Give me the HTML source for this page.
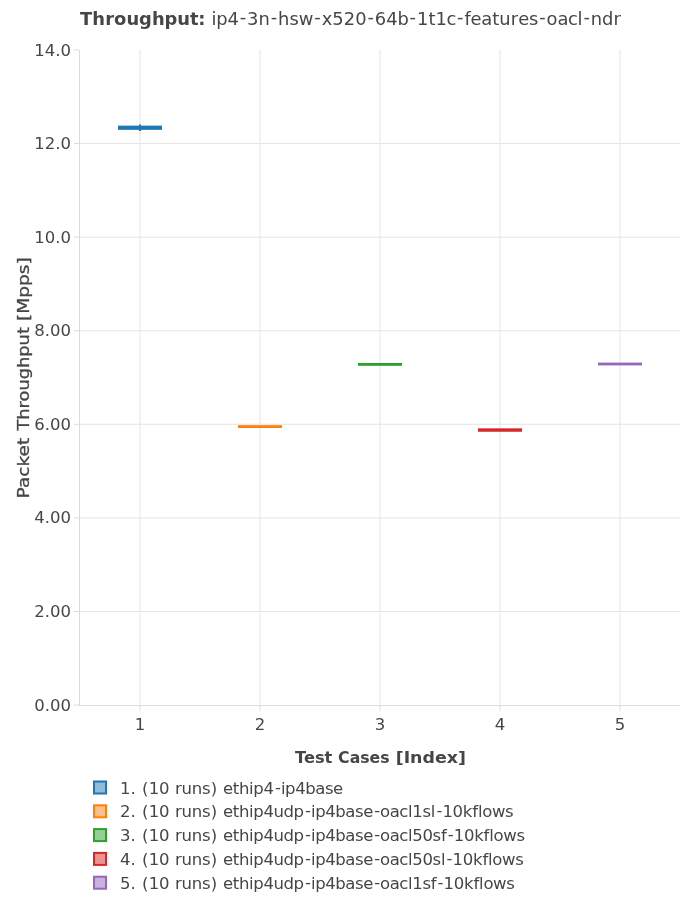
<!DOCTYPE html>
<html lang="en">
<head>
<meta charset="utf-8">
<title>Throughput: ip4-3n-hsw-x520-64b-1t1c-features-oacl-ndr</title>
<style>
html,body{margin:0;padding:0;background:#fff;}
body{width:700px;height:900px;overflow:hidden;}
svg{display:block;}
text{font-family:"DejaVu Sans","Liberation Sans",sans-serif;fill:#464646;}
.grid line{stroke:#e4e4e4;stroke-width:1;}
.tick{font-size:16.5px;fill:#4e4e4e;}
.leg{font-size:16.5px;fill:#4e4e4e;}
</style>
</head>
<body>
<svg width="700" height="900" viewBox="0 0 700 900">
<rect width="700" height="900" fill="#fff"/>
<g class="grid">
<line x1="140" y1="50" x2="140" y2="705"/>
<line x1="260" y1="50" x2="260" y2="705"/>
<line x1="380" y1="50" x2="380" y2="705"/>
<line x1="500" y1="50" x2="500" y2="705"/>
<line x1="620" y1="50" x2="620" y2="705"/>
<line x1="80" y1="611.43" x2="680" y2="611.43"/>
<line x1="80" y1="517.86" x2="680" y2="517.86"/>
<line x1="80" y1="424.29" x2="680" y2="424.29"/>
<line x1="80" y1="330.71" x2="680" y2="330.71"/>
<line x1="80" y1="237.14" x2="680" y2="237.14"/>
<line x1="80" y1="143.57" x2="680" y2="143.57"/>
</g>
<g stroke="#dcdcdc" stroke-width="1">
<line x1="79.5" y1="50" x2="79.5" y2="706"/>
<line x1="79" y1="705.5" x2="680" y2="705.5"/>
<line x1="74" y1="705.00" x2="79" y2="705.00"/>
<line x1="74" y1="611.43" x2="79" y2="611.43"/>
<line x1="74" y1="517.86" x2="79" y2="517.86"/>
<line x1="74" y1="424.29" x2="79" y2="424.29"/>
<line x1="74" y1="330.71" x2="79" y2="330.71"/>
<line x1="74" y1="237.14" x2="79" y2="237.14"/>
<line x1="74" y1="143.57" x2="79" y2="143.57"/>
<line x1="74" y1="50.00" x2="79" y2="50.00"/>
<line x1="140" y1="706" x2="140" y2="711"/>
<line x1="260" y1="706" x2="260" y2="711"/>
<line x1="380" y1="706" x2="380" y2="711"/>
<line x1="500" y1="706" x2="500" y2="711"/>
<line x1="620" y1="706" x2="620" y2="711"/>
</g>
<g stroke-width="2" fill="none">
<rect x="119" y="126.65" width="42" height="2.2" stroke="#1f77b4" fill="#1f77b4"/>
<line x1="140" y1="124.6" x2="140" y2="131" stroke="#1f77b4"/>
<rect x="239" y="426.2" width="42" height="0.8" stroke="#ff7f0e" fill="#ff7f0e"/>
<rect x="359" y="364" width="42" height="0.8" stroke="#2ca02c" fill="#2ca02c"/>
<rect x="479" y="429.35" width="42" height="1.4" stroke="#d62728" fill="#d62728"/>
<rect x="599" y="363.6" width="42" height="0.8" stroke="#9467bd" fill="#9467bd"/>
</g>
<text x="80.0 92.3 105.2 114.1 126.4 139.1 151.9 164.5 177.3 189.9 198.3" y="24.5" font-size="17.9px" font-weight="bold">Throughput:</text>
<text x="211.4 216.2 227.5 239.8 247.1 258.5 270.8 278.1 289.5 298.8 314.3 321.7 332.3 343.7 355.2 367.4 374.7 386.2 397.5 409.6 416.9 428.4 435.4 446.6 457.1 464.4 470.5 481.3 492.2 499.3 510.8 518.2 529.0 539.2 546.5 557.4 568.0 577.6 583.4 590.7 602.0 613.4" y="24.5" dy="0 0 0 -1.1 1.1 0 -1.1 1.1 0 0 -1.1 1.1 0 0 0 -1.1 1.1 0 0 -1.1 1.1 0 0 0 -1.1 1.1 0 0 0 0 0 0 0 -1.1 1.1 0 0 0 -1.1 1.1 0 0" font-size="17.9px">ip4-3n-hsw-x520-64b-1t1c-features-oacl-ndr</text>
<g class="tick" text-anchor="end">
<text x="71" y="711">0.00</text>
<text x="71" y="617">2.00</text>
<text x="71" y="523">4.00</text>
<text x="71" y="430">6.00</text>
<text x="71" y="336">8.00</text>
<text x="71" y="243">10.0</text>
<text x="71" y="149">12.0</text>
<text x="71" y="56">14.0</text>
</g>
<g class="tick" text-anchor="middle">
<text x="140" y="730">1</text>
<text x="260" y="730">2</text>
<text x="380" y="730">3</text>
<text x="500" y="730">4</text>
<text x="620" y="730">5</text>
</g>
<text y="763" font-size="16.4px" font-weight="bold"><tspan x="295.0" textLength="37.4" lengthAdjust="spacingAndGlyphs">Test</tspan> <tspan x="338.1" textLength="51.5" lengthAdjust="spacingAndGlyphs">Cases</tspan> <tspan x="395.7" textLength="70.2" lengthAdjust="spacingAndGlyphs">[Index]</tspan></text>
<text transform="translate(29,377.8) rotate(-90)" font-size="16.0px" stroke="#464646" stroke-width="0.3"><tspan x="-120.6" textLength="60.7" lengthAdjust="spacingAndGlyphs">Packet</tspan> <tspan x="-52.8" textLength="103.5" lengthAdjust="spacingAndGlyphs">Throughput</tspan> <tspan x="56.8" textLength="63.8" lengthAdjust="spacingAndGlyphs">[Mpps]</tspan></text>
<g class="leg">
<rect x="94" y="781.50" width="12" height="12" fill="#1f77b4" fill-opacity="0.5" stroke="#1f77b4" stroke-width="2"/>
<text x="119.9 130.6 136.1 142.1 148.8 159.0 169.3 175.0 181.6 191.7 201.9 210.8 217.6 222.9 232.7 238.9 249.1 253.3 263.4 274.9 280.9 285.1 295.2 305.3 315.3 325.0 333.1" y="794" dy="0 0 0 0 0 0 0 0 0 0 0 0 0 0 0 0 0 0 0 -0.7 0.7 0 0 0 0 0 0">1. (10 runs) ethip4-ip4base</text>
<rect x="94" y="805.30" width="12" height="12" fill="#ff7f0e" fill-opacity="0.5" stroke="#ff7f0e" stroke-width="2"/>
<text x="119.9 130.6 136.1 142.1 148.8 159.0 169.3 175.0 181.6 191.7 201.9 210.8 217.6 222.9 232.7 238.9 249.1 253.3 263.4 273.6 283.6 293.6 305.0 311.0 315.2 325.3 335.3 345.3 355.0 363.2 374.2 380.1 389.8 399.3 407.9 412.2 422.4 430.8 436.4 442.4 452.5 462.8 472.2 477.9 482.2 491.9 505.0" y="817" dy="0 0 0 0 0 0 0 0 0 0 0 0 0 0 0 0 0 0 0 0 0 0 -0.7 0.7 0 0 0 0 0 0 -0.7 0.7 0 0 0 0 0 0 -0.7 0.7 0 0 0 0 0 0 0">2. (10 runs) ethip4udp-ip4base-oacl1sl-10kflows</text>
<rect x="94" y="829.10" width="12" height="12" fill="#2ca02c" fill-opacity="0.5" stroke="#2ca02c" stroke-width="2"/>
<text x="119.9 130.6 136.1 142.1 148.8 159.0 169.3 175.0 181.6 191.7 201.9 210.8 217.6 222.9 232.7 238.9 249.1 253.3 263.4 273.6 283.6 293.6 305.0 311.0 315.2 325.3 335.3 345.3 355.0 363.2 374.2 380.1 389.8 399.3 407.9 412.2 422.4 432.6 440.9 447.8 453.8 463.9 474.2 483.6 489.3 493.6 503.3 516.4" y="841" dy="0 0 0 0 0 0 0 0 0 0 0 0 0 0 0 0 0 0 0 0 0 0 -0.7 0.7 0 0 0 0 0 0 -0.7 0.7 0 0 0 0 0 0 0 -0.7 0.7 0 0 0 0 0 0 0">3. (10 runs) ethip4udp-ip4base-oacl50sf-10kflows</text>
<rect x="94" y="852.90" width="12" height="12" fill="#d62728" fill-opacity="0.5" stroke="#d62728" stroke-width="2"/>
<text x="119.9 130.6 136.1 142.1 148.8 159.0 169.3 175.0 181.6 191.7 201.9 210.8 217.6 222.9 232.7 238.9 249.1 253.3 263.4 273.6 283.6 293.6 305.0 311.0 315.2 325.3 335.3 345.3 355.0 363.2 374.2 380.1 389.8 399.3 407.9 412.2 422.4 432.6 440.9 446.6 452.5 462.7 473.0 482.4 488.0 492.3 502.0 515.2" y="865" dy="0 0 0 0 0 0 0 0 0 0 0 0 0 0 0 0 0 0 0 0 0 0 -0.7 0.7 0 0 0 0 0 0 -0.7 0.7 0 0 0 0 0 0 0 -0.7 0.7 0 0 0 0 0 0 0">4. (10 runs) ethip4udp-ip4base-oacl50sl-10kflows</text>
<rect x="94" y="876.70" width="12" height="12" fill="#9467bd" fill-opacity="0.5" stroke="#9467bd" stroke-width="2"/>
<text x="119.9 130.6 136.1 142.1 148.8 159.0 169.3 175.0 181.6 191.7 201.9 210.8 217.6 222.9 232.7 238.9 249.1 253.3 263.4 273.6 283.6 293.6 305.0 311.0 315.2 325.3 335.3 345.3 355.0 363.2 374.2 380.1 389.8 399.3 407.9 412.2 422.4 430.8 437.6 443.6 453.8 464.1 473.5 479.1 483.4 493.1 506.3" y="889" dy="0 0 0 0 0 0 0 0 0 0 0 0 0 0 0 0 0 0 0 0 0 0 -0.7 0.7 0 0 0 0 0 0 -0.7 0.7 0 0 0 0 0 0 -0.7 0.7 0 0 0 0 0 0 0">5. (10 runs) ethip4udp-ip4base-oacl1sf-10kflows</text>
</g>
</svg>
</body>
</html>
